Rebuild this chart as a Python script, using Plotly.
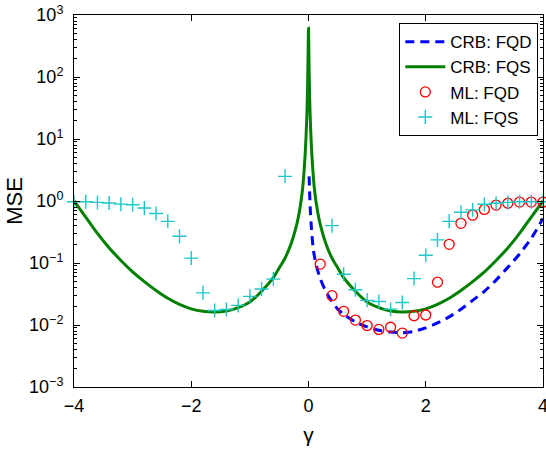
import plotly.graph_objects as go

# ---------------- data ----------------
# CRB: FQS (green solid line)
gamma_crb_fqs = [-4.0, -3.8, -3.6, -3.4, -3.2, -3.0, -2.8, -2.6, -2.4, -2.2, -2.0,
                 -1.8, -1.6, -1.4, -1.2, -1.0, -0.8, -0.6, -0.5, -0.4, -0.3, -0.2,
                 -0.15, -0.1, -0.07, -0.05, -0.03, -0.02, -0.01, 0.0,
                 0.01, 0.02, 0.03, 0.05, 0.07, 0.1, 0.15, 0.2, 0.3, 0.4, 0.5, 0.6,
                 0.8, 1.0, 1.2, 1.4, 1.6, 1.8, 2.0, 2.2, 2.4, 2.6, 2.8, 3.0, 3.2,
                 3.4, 3.6, 3.8, 4.0]
mse_crb_fqs = [1.0, 0.55, 0.30, 0.175, 0.11, 0.072, 0.050, 0.036, 0.027, 0.0215, 0.0182,
               0.0166, 0.0162, 0.0168, 0.0190, 0.0235, 0.035, 0.058, 0.083, 0.12, 0.2, 0.42,
               0.72, 1.6, 3.6, 7.5, 21, 45, 140, 610,
               140, 45, 21, 7.5, 3.6, 1.6, 0.72, 0.42, 0.2, 0.12, 0.083, 0.058,
               0.035, 0.0235, 0.0190, 0.0168, 0.0162, 0.0166, 0.0182, 0.0215, 0.027, 0.036, 0.050, 0.072, 0.11,
               0.175, 0.30, 0.55, 1.0]

# CRB: FQD (blue dashed line)
gamma_crb_fqd = [0.01, 0.02, 0.03, 0.05, 0.08, 0.1, 0.15, 0.2, 0.3, 0.4, 0.5, 0.6, 0.8,
                 1.0, 1.2, 1.4, 1.6, 1.8, 2.0, 2.2, 2.4, 2.6, 2.8, 3.0, 3.2, 3.4, 3.6,
                 3.8, 4.0]
mse_crb_fqd = [2.5, 1.3, 0.75, 0.36, 0.17, 0.13, 0.08, 0.056, 0.034, 0.024, 0.018, 0.0148, 0.0112,
               0.0093, 0.0082, 0.0077, 0.0075, 0.0079, 0.0090, 0.0108, 0.0135, 0.0180, 0.025, 0.035, 0.053, 0.085, 0.14,
               0.25, 0.52]

# ML: FQD (red circles)
gamma_ml_fqd = [0.2, 0.4, 0.6, 0.8, 1.0, 1.2, 1.4, 1.6, 1.8, 2.0, 2.2, 2.4, 2.6, 2.8,
                3.0, 3.2, 3.4, 3.6, 3.8, 4.0]
mse_ml_fqd = [0.096, 0.0297, 0.0166, 0.012, 0.0098, 0.0085, 0.0092, 0.0074, 0.0141, 0.0145,
              0.049, 0.20, 0.436, 0.59, 0.73, 0.86, 0.92, 0.96, 0.96, 0.96]

# ML: FQS (cyan crosses)
gamma_ml_fqs = [-4.0, -3.8, -3.6, -3.4, -3.2, -3.0, -2.8, -2.6, -2.4, -2.2, -2.0, -1.8,
                -1.6, -1.4, -1.2, -1.0, -0.8, -0.6, -0.4,
                0.4, 0.6, 0.8, 1.0, 1.2, 1.4, 1.6, 1.8, 2.0, 2.2, 2.4, 2.6, 2.8,
                3.0, 3.2, 3.4, 3.6, 3.8, 4.0]
mse_ml_fqs = [0.97, 0.97, 0.95, 0.93, 0.89, 0.87, 0.77, 0.63, 0.47, 0.27, 0.12, 0.033,
              0.0171, 0.0178, 0.0207, 0.029, 0.038, 0.055, 2.5,
              0.40, 0.066, 0.037, 0.025, 0.024, 0.018, 0.023, 0.056, 0.133, 0.236, 0.47, 0.66, 0.72,
              0.885, 0.92, 0.95, 0.97, 0.97, 0.97]

x_ticks = [-4, -2, 0, 2, 4]
y_exponents = [-3, -2, -1, 0, 1, 2, 3]

# ---------------- figure ----------------
FONT = "Liberation Sans, Arial, Helvetica, sans-serif"

fig = go.Figure()
fig.add_trace(go.Scatter(
    x=gamma_crb_fqd, y=mse_crb_fqd, mode="lines", name="CRB: FQD",
    line=dict(color="#0000FF", width=3, dash="9px,6px", shape="spline", smoothing=0.6),
))
fig.add_trace(go.Scatter(
    x=gamma_crb_fqs, y=mse_crb_fqs, mode="lines", name="CRB: FQS",
    line=dict(color="#008000", width=3, shape="spline", smoothing=0.6),
))
fig.add_trace(go.Scatter(
    x=gamma_ml_fqd, y=mse_ml_fqd, mode="markers", name="ML: FQD", cliponaxis=False,
    marker=dict(symbol="circle-open", size=10, color="#FF0000", line=dict(width=1.3, color="#FF0000")),
))
fig.add_trace(go.Scatter(
    x=gamma_ml_fqs, y=mse_ml_fqs, mode="markers", name="ML: FQS", cliponaxis=False,
    marker=dict(symbol="cross-thin", size=10, color="#1CC6C6", line=dict(width=1.4, color="#1CC6C6")),
))

minor_vals = [m * 10.0 ** e for e in y_exponents[:-1] for m in range(2, 10)]

fig.update_layout(
    width=546, height=451,
    margin=dict(l=74, r=3, t=15, b=64, autoexpand=False),
    paper_bgcolor="white", plot_bgcolor="white",
    font=dict(family=FONT, size=18, color="black"),
    showlegend=True,
    legend=dict(
        x=0.99, y=0.978, xanchor="right", yanchor="top",
        bgcolor="white", bordercolor="black", borderwidth=1,
        font=dict(family=FONT, size=17, color="black"),
        itemwidth=40, tracegroupgap=0,
    ),
)
fig.update_xaxes(
    range=[-4, 4], showgrid=False, zeroline=False, automargin=False,
    showline=True, linecolor="black", linewidth=1, mirror="ticks",
    ticks="inside", ticklen=6, tickcolor="black", tickwidth=1,
    tickmode="array", tickvals=x_ticks,
    ticklabelstandoff=2, ticklabeloverflow="allow",
    title=dict(text="γ", font=dict(family=FONT, size=21), standoff=12),
)
fig.update_yaxes(
    type="log", range=[-3, 3], showgrid=False, zeroline=False, automargin=False,
    showline=True, linecolor="black", linewidth=1, mirror="ticks",
    ticks="inside", ticklen=6, tickcolor="black", tickwidth=1,
    tickmode="array", tickvals=[10.0 ** e for e in y_exponents],
    ticktext=["10<sup>" + ("−" if e < 0 else "") + str(abs(e)) + "</sup>" for e in y_exponents],
    ticklabelstandoff=6, ticklabeloverflow="allow",
    minor=dict(ticks="inside", ticklen=3, tickcolor="black", tickwidth=1,
               tickmode="array", tickvals=minor_vals, showgrid=False),
    title=dict(text="MSE", font=dict(family=FONT, size=22), standoff=0),
)

fig.write_html("out.html", config={"displayModeBar": False})

# remove the browser's default page margin so the figure sits at the window origin
with open("out.html", "r", encoding="utf-8") as f:
    html = f.read()
html = html.replace("<head>", "<head><style>html,body{margin:0;padding:0;overflow:hidden;}</style>", 1)
with open("out.html", "w", encoding="utf-8") as f:
    f.write(html)
